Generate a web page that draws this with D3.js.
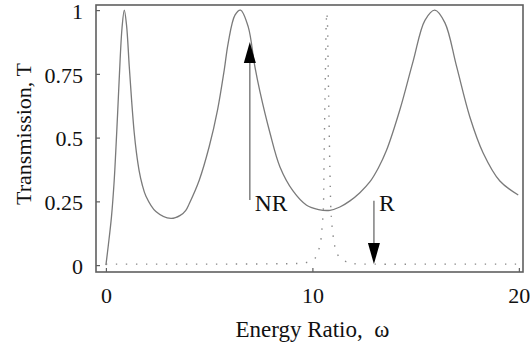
<!DOCTYPE html>
<html>
<head>
<meta charset="utf-8">
<script src="https://cdn.jsdelivr.net/npm/d3@7"></script>
<style>
    body { margin: 0; background: white; }
    svg { display: block; }
</style>
</head>
<body>
<script>

// solid curve (omega, T)
const nrOmega = [0, 0.12, 0.27, 0.40, 0.48, 0.57, 0.65, 0.78, 0.89, 1.0, 1.13, 1.25, 1.37, 1.48, 1.61, 1.75, 1.94, 2.42, 3.15, 3.6, 3.87, 4.03, 4.52, 5.0, 5.41, 5.73, 5.92, 6.25, 6.52, 6.89, 7.21, 7.46, 7.94, 8.43, 9.07, 9.72, 10.3, 10.85, 11.33, 11.82, 12.3, 12.78, 13.2, 13.59, 14.24, 14.88, 15.45, 15.93, 16.42, 16.98, 17.63, 18.27, 19.08, 19.97]
const nrT = [0, 0.08, 0.19, 0.33, 0.45, 0.6, 0.74, 0.93, 1.0, 0.94, 0.78, 0.64, 0.52, 0.44, 0.37, 0.318, 0.27, 0.21, 0.183, 0.195, 0.215, 0.24, 0.333, 0.464, 0.61, 0.765, 0.87, 0.98, 1.0, 0.935, 0.78, 0.68, 0.52, 0.385, 0.29, 0.235, 0.218, 0.215, 0.228, 0.252, 0.284, 0.326, 0.382, 0.45, 0.61, 0.80, 0.96, 1.0, 0.95, 0.78, 0.58, 0.44, 0.33, 0.275]

// dotted curve (resonant case)
const rOmega = [0, 2, 4, 6, 8, 9, 9.69, 10.12, 10.31, 10.41, 10.46, 10.53, 10.56, 10.6, 10.64, 10.67, 10.7, 10.73, 10.76, 10.8, 10.85, 10.9, 10.94, 10.98, 11.06, 11.14, 11.44, 11.9, 13, 16, 20]
const rT = [0.004, 0.004, 0.004, 0.004, 0.005, 0.006, 0.01, 0.026, 0.061, 0.098, 0.137, 0.218, 0.373, 0.6, 0.8, 0.95, 0.99, 0.95, 0.8, 0.6, 0.366, 0.21, 0.17, 0.127, 0.091, 0.052, 0.022, 0.007, 0.004, 0.004, 0.004]

const xTicks = [0, 10, 20]
const yTicks = [0, 0.25, 0.5, 0.75, 1]
const yTickLabels = ['0', '0.25', '0.5', '0.75', '1']

// arrows: label, omega, start T, tip T
const arrowLabels = ['NR', 'R']
const arrowOmega = [6.97, 12.98]
const arrowFrom = [0.255, 0.252]
const arrowTo = [0.875, 0.004]

const width = 530
const height = 351
const frame = {left: 96, right: 523, top: 5, bottom: 272}
const font = "'Liberation Serif'"

const svg = d3.select('body').append('svg')
    .attr('width', width)
    .attr('height', height)

const x = d3.scaleLinear().domain([-0.48, 20.2]).range([frame.left, frame.right])
const y = d3.scaleLinear().domain([-0.027, 1.02]).range([frame.bottom, frame.top])

const line = d3.line()
    .x(d => x(d[0]))
    .y(d => y(d[1]))
    .curve(d3.curveCatmullRom.alpha(0.5))

// dotted curve
svg.append('path')
    .datum(d3.zip(rOmega, rT))
    .attr('d', line)
    .attr('fill', 'none')
    .attr('stroke', '#888')
    .attr('stroke-width', 1.4)
    .attr('stroke-dasharray', '1.4,8.6')

// solid curve
svg.append('path')
    .datum(d3.zip(nrOmega, nrT))
    .attr('d', line)
    .attr('fill', 'none')
    .attr('stroke', '#7a7a7a')
    .attr('stroke-width', 1.3)

// frame
svg.append('rect')
    .attr('x', frame.left)
    .attr('y', frame.top)
    .attr('width', frame.right - frame.left)
    .attr('height', frame.bottom - frame.top)
    .attr('fill', 'none')
    .attr('stroke', '#5f5f5f')
    .attr('stroke-width', 1.6)

// axes, ticks pointing inward
const xAxis = svg.append('g')
    .attr('transform', `translate(0,${frame.bottom})`)
    .call(d3.axisBottom(x).tickValues(xTicks).tickSize(-4).tickPadding(15))

const yAxis = svg.append('g')
    .attr('transform', `translate(${frame.left},0)`)
    .call(d3.axisLeft(y).tickValues(yTicks).tickSize(-4).tickPadding(13)
        .tickFormat((d, i) => yTickLabels[i]))

for (const ax of [xAxis, yAxis]) {
    ax.select('.domain').remove()
    ax.selectAll('.tick line').attr('stroke', '#5f5f5f').attr('stroke-width', 1.2)
    ax.selectAll('.tick text')
        .style('font-family', font)
        .style('font-size', '22px')
        .attr('fill', '#111')
}
yAxis.selectAll('.tick text').attr('dy', '0.38em')

// axis titles
svg.append('text')
    .attr('x', x(10))
    .attr('y', 337)
    .attr('text-anchor', 'middle')
    .style('font-family', font)
    .style('font-size', '23px')
    .style('white-space', 'pre')
    .attr('fill', '#111')
    .text('Energy Ratio,  ω')

svg.append('text')
    .attr('transform', 'translate(31,134) rotate(-90)')
    .attr('text-anchor', 'middle')
    .style('font-family', font)
    .style('font-size', '22px')
    .attr('fill', '#111')
    .text('Transmission, T')

// arrows
const headLen = 21
const headHalf = 6

arrowLabels.forEach((label, i) => {
    const ax0 = x(arrowOmega[i])
    const y0 = y(arrowFrom[i])
    const y1 = y(arrowTo[i])
    const dir = y1 < y0 ? 1 : -1
    const base = y1 + dir * headLen

    svg.append('line')
        .attr('x1', ax0).attr('x2', ax0)
        .attr('y1', y0).attr('y2', base)
        .attr('stroke', '#777')
        .attr('stroke-width', 1.4)

    svg.append('path')
        .attr('d', `M${ax0},${y1}L${ax0 - headHalf},${base}L${ax0 + headHalf},${base}Z`)
        .attr('fill', '#000')

    svg.append('text')
        .attr('x', ax0 + 5)
        .attr('y', 210.5)
        .style('font-family', font)
        .style('font-size', '23.5px')
        .attr('fill', '#111')
        .text(label)
})

</script>
</body>
</html>
